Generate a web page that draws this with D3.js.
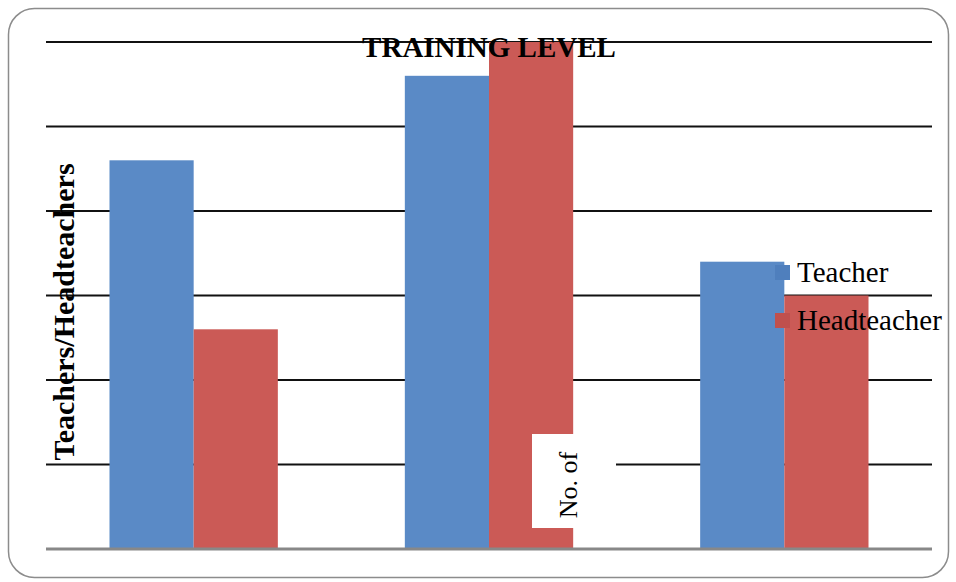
<!DOCTYPE html>
<html>
<head>
<meta charset="utf-8">
<script src="https://cdn.jsdelivr.net/npm/d3@7"></script>
<style>
  body { margin: 0; background: #fff; }
  svg { display: block; }
</style>
</head>
<body>
<svg id="chart" width="956" height="582"></svg>
<script>
var categories = ["Level 1", "Level 2", "Level 3"];
var series = ["Teacher", "Headteacher"];
var teacherValues = [46, 56, 34];
var headteacherValues = [26, 60, 30];
var yTicks = [0, 10, 20, 30, 40, 50, 60];

var svg = d3.select("#chart"),
    margin = { left: 46, right: 24, top: 42, bottom: 33 },
    width = 956 - margin.left - margin.right,
    height = 582 - margin.top - margin.bottom;

var serif = "'Liberation Serif', 'Times New Roman', serif";

// outer rounded frame
svg.append("rect")
    .attr("x", 8.5).attr("y", 8.5)
    .attr("width", 940).attr("height", 569)
    .attr("rx", 26)
    .attr("fill", "#fff")
    .attr("stroke", "#8c8c8c")
    .attr("stroke-width", 1.5);

var g = svg.append("g").attr("transform", "translate(" + margin.left + "," + margin.top + ")");

var x0 = d3.scaleBand().domain(categories).range([0, width]).paddingInner(0.43).paddingOuter(0.215);
var x1 = d3.scaleBand().domain(series).range([0, x0.bandwidth()]);
var y = d3.scaleLinear().domain([0, 60]).range([height, 0]);
var colors = { Teacher: "#5a8ac6", Headteacher: "#cb5a56" };

// gridlines
g.selectAll(".grid")
    .data(yTicks.filter(function (d) { return d > 0; }))
    .enter().append("line")
    .attr("x1", 0).attr("x2", width)
    .attr("y1", function (d) { return y(d); })
    .attr("y2", function (d) { return y(d); })
    .attr("stroke", "#111")
    .attr("stroke-width", 2);

var rows = categories.map(function (c, i) {
  return { cat: c, vals: [
    { s: "Teacher", v: teacherValues[i] },
    { s: "Headteacher", v: headteacherValues[i] }
  ] };
});

var groups = g.selectAll(".grp")
    .data(rows)
    .enter().append("g")
    .attr("transform", function (d) { return "translate(" + x0(d.cat) + ",0)"; });

groups.selectAll("rect")
    .data(function (d) { return d.vals; })
    .enter().append("rect")
    .attr("x", function (d) { return x1(d.s); })
    .attr("width", x1.bandwidth())
    .attr("y", function (d) { return y(d.v); })
    .attr("height", function (d) { return height - y(d.v); })
    .attr("fill", function (d) { return colors[d.s]; });

// baseline
g.append("line")
    .attr("x1", 0).attr("x2", width)
    .attr("y1", height).attr("y2", height)
    .attr("stroke", "#888")
    .attr("stroke-width", 3);

// title
svg.append("text")
    .attr("x", 489).attr("y", 57)
    .attr("text-anchor", "middle")
    .attr("font-family", serif)
    .attr("font-weight", "bold")
    .attr("font-size", 29)
    .text("TRAINING LEVEL");

// y axis title
svg.append("text")
    .attr("transform", "translate(74,312) rotate(-90)")
    .attr("text-anchor", "middle")
    .attr("font-family", serif)
    .attr("font-weight", "bold")
    .attr("font-size", 30)
    .text("Teachers/Headteachers");

// stray "No. of" label box
svg.append("rect")
    .attr("x", 532).attr("y", 434)
    .attr("width", 84).attr("height", 94)
    .attr("fill", "#fff");
svg.append("text")
    .attr("transform", "translate(577,485) rotate(-90)")
    .attr("text-anchor", "middle")
    .attr("font-family", serif)
    .attr("font-size", 26)
    .text("No. of");

// legend
var legend = svg.append("g").attr("transform", "translate(775,265)");
var legendColors = { Teacher: "#4f7fbd", Headteacher: "#c0504d" };
series.forEach(function (s, i) {
  legend.append("rect")
      .attr("x", 0).attr("y", i * 48)
      .attr("width", 15).attr("height", 15)
      .attr("fill", legendColors[s]);
  legend.append("text")
      .attr("x", 22).attr("y", i * 48 + 17)
      .attr("font-family", serif)
      .attr("font-size", 29)
      .text(s);
});
</script>
</body>
</html>
